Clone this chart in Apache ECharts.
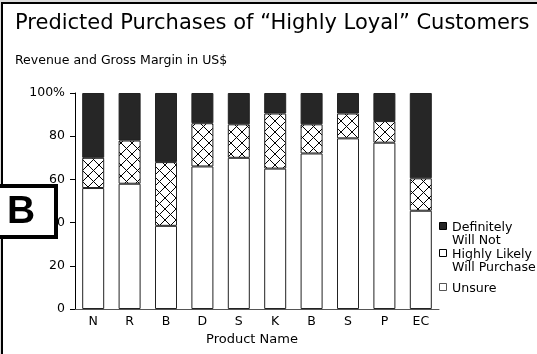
<!DOCTYPE html>
<html>
<head>
<meta charset="utf-8">
<script src="https://cdn.jsdelivr.net/npm/echarts@6/dist/echarts.min.js"></script>
<style>
  html, body { margin: 0; padding: 0; background: #fff; }
  #chart { width: 537px; height: 354px; }
</style>
</head>
<body>
<div id="chart"></div>
<script>
// Product categories along the x axis
const categories = ['N', 'R', 'B', 'D', 'S', 'K', 'B', 'S', 'P', 'EC'];
// Share of customers (%) per answer, stacked bottom to top
const unsure        = [56, 58, 38.5, 66, 70, 65, 72, 79, 77, 45.5];
const highlyLikely  = [14, 20, 29.5, 20, 15.5, 25.5, 13.5, 11.5, 10, 15];
const definitelyNot = [30, 22, 32, 14, 14.5, 9.5, 14.5, 9.5, 13, 39.5];
const seriesNames = ['Definitely\nWill Not', 'Highly Likely\nWill Purchase', 'Unsure'];
const yMax = 100;
const yStep = 20;

const FONT = 'DejaVu Sans, Verdana, sans-serif';

// Cross-hatch tile for the "Highly Likely" segments
function hatchTile() {
  const n = 11;
  const c = document.createElement('canvas');
  c.width = n; c.height = n;
  const ctx = c.getContext('2d');
  ctx.fillStyle = '#fff';
  ctx.fillRect(0, 0, n, n);
  ctx.fillStyle = '#000';
  for (let i = 0; i < n; i++) {
    ctx.fillRect(i, i, 1, 1);
    ctx.fillRect(n - 1 - i, i, 1, 1);
  }
  return c;
}
const hatch = { image: hatchTile(), repeat: 'repeat' };

const chart = echarts.init(document.getElementById('chart'), null, { renderer: 'canvas' });

const barBase = {
  type: 'bar',
  stack: 'share',
  barWidth: 22,
  animation: false,
  itemStyle: { borderColor: '#222', borderWidth: 1 }
};

// Legend entries drawn as graphic items
const legendRows = [
  { name: seriesNames[0], y: 222, fill: '#262626', stroke: '#000' },
  { name: seriesNames[1], y: 249, fill: '#fff', stroke: '#000' },
  { name: seriesNames[2], y: 283, fill: '#fff', stroke: '#555' }
];
const legendGraphics = [];
legendRows.forEach(r => {
  legendGraphics.push({
    type: 'rect', z: 50,
    shape: { x: 439.5, y: r.y + 0.5, width: 7, height: 7 },
    style: { fill: r.fill, stroke: r.stroke, lineWidth: 1 }
  });
  legendGraphics.push({
    type: 'text', z: 50, x: 452, y: r.y - 1,
    style: { text: r.name, font: '12.6px ' + FONT, fill: '#000', lineHeight: 13, verticalAlign: 'top' }
  });
});

chart.setOption({
  backgroundColor: '#dcdcdc',
  animation: false,
  title: [
    {
      text: 'Predicted Purchases of \u201CHighly Loyal\u201D Customers',
      left: 10, top: 8,
      textStyle: { fontFamily: FONT, fontSize: 21, fontWeight: 'normal', color: '#000' }
    },
    {
      text: 'Revenue and Gross Margin in US$',
      left: 10, top: 49,
      textStyle: { fontFamily: FONT, fontSize: 12.5, fontWeight: 'normal', color: '#000' }
    }
  ],
  grid: { left: 75, right: 98, top: 93, bottom: 45 },
  xAxis: {
    type: 'category',
    data: categories,
    axisLine: { lineStyle: { color: '#555', width: 1 } },
    axisTick: { show: false },
    axisLabel: { color: '#000', fontFamily: FONT, fontSize: 12.5, margin: 6 },
    name: 'Product Name',
    nameLocation: 'middle',
    nameGap: 19,
    nameTextStyle: { color: '#000', fontFamily: FONT, fontSize: 13, padding: [0, 10, 0, 0] }
  },
  yAxis: {
    type: 'value',
    min: 0, max: yMax, interval: yStep,
    axisLine: { show: true, lineStyle: { color: '#000', width: 1 } },
    axisTick: { show: true, length: 5, lineStyle: { color: '#000' } },
    splitLine: { show: false },
    axisLabel: {
      color: '#000', fontFamily: FONT, fontSize: 12.5, margin: 10,
      formatter: v => (v === yMax ? v + '%' : String(v))
    }
  },
  series: [
    Object.assign({}, barBase, { name: seriesNames[2], data: unsure,
      itemStyle: { color: '#fff', borderColor: '#222', borderWidth: 1 } }),
    Object.assign({}, barBase, { name: seriesNames[1], data: highlyLikely,
      itemStyle: { color: hatch, borderColor: '#222', borderWidth: 1 } }),
    Object.assign({}, barBase, { name: seriesNames[0], data: definitelyNot,
      itemStyle: { color: '#262626', borderColor: '#222', borderWidth: 1 } })
  ],
  graphic: [
    // white panel with its black frame on the top and left edges
    { type: 'rect', z: -10, silent: true,
      shape: { x: 2, y: 3, width: 560, height: 380 },
      style: { fill: '#fff', stroke: '#000', lineWidth: 2 } },
    // section badge
    { type: 'rect', z: 100,
      shape: { x: -4, y: 186, width: 60, height: 51 },
      style: { fill: '#fff', stroke: '#000', lineWidth: 4 } },
    { type: 'text', z: 101, x: 21, y: 212,
      style: { text: 'B', font: 'bold 39px Liberation Sans, Arial, sans-serif',
               fill: '#000', align: 'center', verticalAlign: 'middle' } }
  ].concat(legendGraphics)
});
</script>
</body>
</html>
